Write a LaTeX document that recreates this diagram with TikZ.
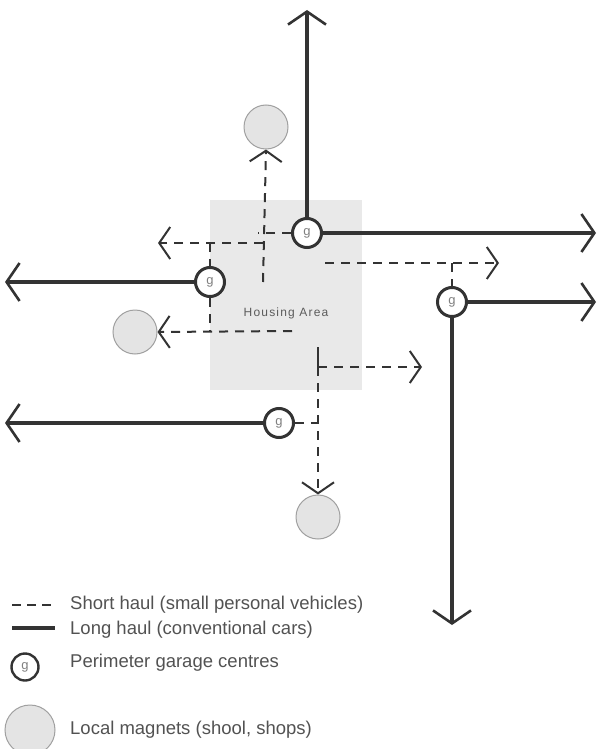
\documentclass[tikz,border=0pt]{standalone}
\usepackage{fontspec}
\setmainfont{Liberation Sans}
\usetikzlibrary{arrows.meta}
\definecolor{ink}{HTML}{333333}
\definecolor{area}{HTML}{E9E9E9}
\definecolor{magfill}{HTML}{E4E4E4}
\definecolor{magdraw}{HTML}{A0A0A0}
\begin{document}
\begin{tikzpicture}[x=1pt,y=-1pt,
  garage/.style={circle,draw=ink,line width=3pt,fill=white,minimum size=29pt,inner sep=0pt,text=gray,font=\fontsize{13}{13}\selectfont},
  magnet/.style={circle,draw=magdraw,line width=1pt,fill=magfill,minimum size=44pt,inner sep=0pt},
  longline/.style={draw=ink,line width=3.6pt},
  longhaul/.style={longline,-{Straight Barb[length=13pt,width=38pt,line width=2.6pt]}},
  shortline/.style={draw=ink,line width=2pt,dash pattern=on 9pt off 7pt},
  shorthaul/.style={shortline,-{Straight Barb[length=11pt,width=32pt,line width=2pt]}},
  legtext/.style={anchor=west,text=ink!85,font=\fontsize{18.5}{18.5}\selectfont,inner sep=0pt}
]
\useasboundingbox (0,0) rectangle (597,749);
% housing area
\fill[area] (210,200) rectangle (362,390);
\node[text=ink!80,font=\fontsize{12}{12}\selectfont\addfontfeature{LetterSpace=10}] (ha) at (286,313) {Housing Area};

% magnets
\node[magnet] (m1) at (266,127) {};
\node[magnet] (m2) at (135,332) {};
\node[magnet] (m3) at (318,517) {};

% junction coordinates
\coordinate (vA) at (263,282);
\coordinate (xA) at (258,233);
\coordinate (hA) at (263,243);
\coordinate (lA) at (158,243);
\coordinate (tA) at (210,243);
\coordinate (bA) at (210,331);
\coordinate (rA) at (292,331);
\coordinate (sB) at (325,263);
\coordinate (eB) at (499,263);
\coordinate (tB) at (452,263);
\coordinate (vC) at (318,347);
\coordinate (jC) at (318,367);
\coordinate (eC) at (422,367);
\coordinate (xC) at (318,423);

% long haul ends
\coordinate (n1) at (307,10);
\coordinate (e1) at (596,233);
\coordinate (w2) at (5,282);
\coordinate (e3) at (596,302);
\coordinate (s3) at (452,625);
\coordinate (w4) at (5,423);

% garages
\node[garage] (g1) at (307,233) {g};
\node[garage] (g2) at (210,282) {g};
\node[garage] (g3) at (452,302) {g};
\node[garage] (g4) at (279,423) {g};

% short haul
\draw[shorthaul] (vA) -- (m1.south);
\draw[shortline] (g1.west) -- (xA);
\draw[shorthaul] (hA) -- (lA);
\draw[shortline] (tA) -- (g2.north);
\draw[shortline] (g2.south) -- (bA);
\draw[shorthaul] (rA) -- (m2.east);
\draw[shorthaul] (sB) -- (eB);
\draw[shortline] (tB) -- (g3.north);
\draw[draw=ink,line width=2pt] (vC) -- (jC);
\draw[shorthaul] (jC) -- (m3.north);
\draw[shorthaul] (jC) -- (eC);
\draw[shortline] (g4.east) -- (xC);

% long haul
\draw[longhaul] (g1.north) -- (n1);
\draw[longhaul] (g1.east) -- (e1);
\draw[longhaul] (g2.west) -- (w2);
\draw[longhaul] (g3.east) -- (e3);
\draw[longhaul] (g3.south) -- (s3);
\draw[longhaul] (g4.west) -- (w4);

% legend
\coordinate (ls1) at (12,605);
\coordinate (ls2) at (55,605);
\coordinate (ll1) at (12,628);
\coordinate (ll2) at (55,628);
\draw[shortline,dash pattern=on 9pt off 6pt] (ls1) -- (ls2);
\draw[longline] (ll1) -- (ll2);
\node[legtext] (t1) at (70,605) {Short haul (small personal vehicles)};
\node[legtext] (t2) at (70,630) {Long haul (conventional cars)};
\node[garage,minimum size=27pt,line width=2.4pt] (lg) at (25,667) {g};
\node[legtext] (t3) at (70,663) {Perimeter garage centres};
\node[magnet,minimum size=50pt] (lm) at (30,730) {};
\node[legtext] (t4) at (70,730) {Local magnets (shool, shops)};
\end{tikzpicture}
\end{document}
